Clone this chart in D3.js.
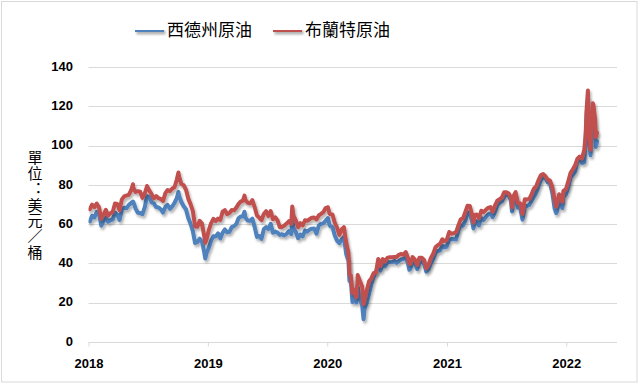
<!DOCTYPE html>
<html><head><meta charset="utf-8">
<script src="https://cdn.jsdelivr.net/npm/d3@7"></script>
<style>
html,body{margin:0;padding:0;background:#fff;}
svg{display:block;}
.ylab{writing-mode:vertical-rl;text-orientation:upright;font-feature-settings:"vert" 0,"vrt2" 0;}
</style>
</head><body>
<svg id="chart" width="640" height="386"></svg>
<script>
// ---------------- DATA ----------------
const seriesNames = ["西德州原油", "布蘭特原油"];
const seriesColors = ["#4F81BD", "#C0504D"];
const yTicks = [0, 20, 40, 60, 80, 100, 120, 140];
const xTickYears = ["2018", "2019", "2020", "2021", "2022"];
const yLabel = "單位：美元／桶";

const dates2018 = ["2018-01-05","2018-01-12","2018-01-19","2018-01-26","2018-02-02","2018-02-09","2018-02-16","2018-02-23","2018-03-02","2018-03-09","2018-03-16","2018-03-23","2018-03-30","2018-04-06","2018-04-13","2018-04-20","2018-04-27","2018-05-04","2018-05-11","2018-05-17","2018-05-18","2018-05-25","2018-06-01","2018-06-08","2018-06-15","2018-06-22","2018-06-29","2018-07-06","2018-07-13","2018-07-20","2018-07-27","2018-08-03","2018-08-10","2018-08-17","2018-08-24","2018-08-31","2018-09-07","2018-09-14","2018-09-21","2018-09-28","2018-10-03","2018-10-05","2018-10-12","2018-10-19","2018-10-26","2018-11-02","2018-11-09","2018-11-16","2018-11-23","2018-11-30","2018-12-07","2018-12-14","2018-12-21","2018-12-24","2018-12-28"];
const wti2018 = [61.4,64.3,63.4,66.1, 65.5,59.2,61.7,63.5, 61.2,62.0,62.3,65.9,64.9, 62.1,67.4,68.4,68.1, 69.7,70.7,71.5,71.3,67.9, 65.8,65.7,65.1,68.6,74.2, 73.8,71.0,70.5,68.7, 68.5,67.6,65.9,68.7,69.8, 67.8,69.0,70.8,73.3, 76.4,74.3,71.3,69.1,67.6, 63.1,60.2,56.5,50.4,50.9, 52.6,51.2,45.6,42.5,45.3];
const brent2018 = [67.6,69.9,68.6,70.5, 68.6,62.8,64.8,67.3, 64.4,65.5,66.2,70.5,70.3, 67.1,72.6,74.1,74.6, 74.9,77.1,80.3,78.5,76.4, 76.8,76.5,73.4,75.6,79.4, 77.1,75.3,73.1,74.3, 73.2,72.8,71.8,75.8,77.4, 76.8,78.1,78.8,82.7, 86.3,84.2,80.4,79.8,77.6, 73.0,70.2,66.8,58.8,58.7, 61.7,60.3,53.8,50.5,52.2];

const dates2019 = ["2019-01-04","2019-01-11","2019-01-18","2019-01-25","2019-02-01","2019-02-08","2019-02-15","2019-02-22","2019-03-01","2019-03-08","2019-03-15","2019-03-22","2019-03-29","2019-04-05","2019-04-12","2019-04-18","2019-04-23","2019-04-26","2019-05-03","2019-05-10","2019-05-17","2019-05-24","2019-05-31","2019-06-07","2019-06-14","2019-06-21","2019-06-28","2019-07-05","2019-07-12","2019-07-19","2019-07-26","2019-08-02","2019-08-09","2019-08-16","2019-08-23","2019-08-30","2019-09-06","2019-09-13","2019-09-16","2019-09-20","2019-09-27","2019-10-04","2019-10-11","2019-10-18","2019-10-25","2019-11-01","2019-11-08","2019-11-15","2019-11-22","2019-11-29","2019-12-06","2019-12-13","2019-12-20","2019-12-27"];
const wti2019 = [47.96,51.6,53.8,53.7, 55.3,52.7,55.6,57.3, 55.8,56.1,58.5,59.0,60.1, 63.1,63.9,64.0,66.3,63.3, 61.9,61.7,62.8,58.6,53.5, 54.0,52.5,57.4,58.5, 57.5,60.2,55.6,56.2, 55.7,54.5,54.9,54.2,55.1, 56.5,54.9,62.9,58.1,55.9, 52.8,54.7,53.8,56.7, 56.2,57.2,57.7,57.8,55.2, 59.2,60.1,60.4,61.7];
const brent2019 = [57.1,60.5,62.7,61.6, 62.8,62.1,66.3,67.1, 65.1,65.7,67.2,67.0,68.4, 70.3,71.6,71.9,74.5,72.2, 70.9,70.6,72.2,68.7,64.5, 63.3,62.0,65.2,66.6, 64.2,66.7,62.5,63.5, 61.9,58.5,58.6,59.3,60.4, 61.5,60.2,69.0,64.3,61.9, 58.4,60.5,59.4,62.0, 61.7,62.5,63.3,63.4,62.4, 64.4,65.2,66.1,68.2];

const dates2020 = ["2020-01-03","2020-01-08","2020-01-10","2020-01-17","2020-01-24","2020-01-31","2020-02-07","2020-02-14","2020-02-21","2020-02-28","2020-03-06","2020-03-09","2020-03-13","2020-03-18","2020-03-20","2020-03-27","2020-03-30","2020-04-02","2020-04-03","2020-04-09","2020-04-17","2020-04-21","2020-04-24","2020-05-01","2020-05-08","2020-05-15","2020-05-22","2020-05-29","2020-06-05","2020-06-12","2020-06-19","2020-06-26","2020-07-03","2020-07-10","2020-07-17","2020-07-24","2020-07-31","2020-08-07","2020-08-14","2020-08-21","2020-08-28","2020-09-04","2020-09-08","2020-09-11","2020-09-18","2020-09-25","2020-10-02","2020-10-09","2020-10-16","2020-10-23","2020-10-30","2020-11-06","2020-11-13","2020-11-20","2020-11-27","2020-12-04","2020-12-11","2020-12-18","2020-12-24","2020-12-31"];
const wti2020 = [63.1,59.6,59.0,58.5,54.2,51.6, 50.3,52.1,53.4,44.8, 41.3,31.1,31.7,20.4,22.4,21.5,20.1, 25.3,28.3,22.8,18.3,11.6,16.9, 19.8,24.7,29.4,33.3,35.5, 39.6,36.3,39.8,38.5, 40.7,40.6,40.6,41.3,40.3, 41.2,42.0,42.3,43.0, 39.8,36.8,37.3,41.1,40.3, 37.1,40.6,40.9,39.9,35.8, 37.1,40.1,42.2,45.5, 46.3,46.6,49.1,48.2,48.5];
const brent2020 = [68.6,65.4,65.0,64.9,60.7,58.2, 54.5,57.3,58.5,50.5, 45.3,34.4,33.9,24.9,27.0,24.9,22.8, 29.9,34.1,31.5,28.1,19.3,21.4, 26.4,31.0,32.5,35.1,35.3, 42.3,38.7,42.2,41.0, 42.8,43.2,43.1,43.3,43.3, 44.4,44.8,44.4,45.8, 42.7,39.8,39.8,43.2,41.9, 39.3,42.9,42.9,41.8,37.5, 39.5,42.8,45.0,48.2, 49.3,50.0,52.3,51.3,51.8];

const dates2021 = ["2021-01-08","2021-01-15","2021-01-22","2021-01-29","2021-02-05","2021-02-12","2021-02-19","2021-02-26","2021-03-05","2021-03-12","2021-03-19","2021-03-23","2021-03-26","2021-04-02","2021-04-09","2021-04-16","2021-04-23","2021-04-30","2021-05-07","2021-05-14","2021-05-21","2021-05-28","2021-06-04","2021-06-11","2021-06-18","2021-06-25","2021-07-02","2021-07-09","2021-07-16","2021-07-19","2021-07-23","2021-07-30","2021-08-06","2021-08-13","2021-08-20","2021-08-27","2021-09-03","2021-09-10","2021-09-17","2021-09-24","2021-10-01","2021-10-08","2021-10-15","2021-10-22","2021-10-29","2021-11-05","2021-11-12","2021-11-19","2021-11-26","2021-12-01","2021-12-03","2021-12-10","2021-12-17","2021-12-20","2021-12-23","2021-12-31"];
const wti2021 = [52.2,52.4,52.3,52.2, 56.9,59.5,59.2,61.5, 66.1,65.6,61.4,57.8,61.0, 61.5,59.3,63.1,62.1,63.6, 64.9,65.4,63.6,66.3, 69.6,70.9,71.6,74.1, 75.2,74.6,71.8,66.4,72.1,74.0, 68.3,68.4,62.3,68.7, 69.3,69.7,72.0,74.0, 75.9,79.4,82.3,83.8,83.6, 81.3,80.8,76.1,68.2, 65.6,66.3,71.7,70.9,68.2,73.8,75.2];
const brent2021 = [56.0,55.1,55.4,55.9, 59.3,62.4,62.9,66.1, 69.4,69.2,64.5,60.8,64.6, 64.9,63.0,66.8,66.1,67.3, 68.3,68.7,66.4,69.6, 71.9,72.7,73.5,76.2, 76.2,75.6,73.6,68.6,74.1,76.3, 70.7,70.6,65.2,72.7, 72.6,72.9,75.3,78.1, 79.3,82.4,84.9,85.5,84.4, 82.7,82.2,78.9,72.7, 68.9,69.9,75.2,73.5,71.5,76.9,77.8];

const dates2022 = ["2022-01-07","2022-01-14","2022-01-21","2022-01-28","2022-02-04","2022-02-11","2022-02-18","2022-02-25","2022-03-01","2022-03-04","2022-03-08","2022-03-10","2022-03-16","2022-03-18","2022-03-23","2022-03-25","2022-03-30","2022-04-01","2022-04-05"];
const wti2022 = [78.9,83.8,85.1,86.8, 92.3,93.1,91.1,91.6, 103.4,115.7,123.7,106.0,95.0,104.7,114.9,113.9,107.8, 99.3,102.0];
const brent2022 = [81.8,86.1,87.9,90.0, 93.3,94.4,93.5,97.9, 105.0,118.1,128.0,109.3,98.0,107.9,121.6,120.7,113.5, 104.4,106.6];

// ---------------- BUILD ----------------
const parse = d3.timeParse("%Y-%m-%d");
const dates = [].concat(dates2018, dates2019, dates2020, dates2021, dates2022).map(parse);
const wti = [].concat(wti2018, wti2019, wti2020, wti2021, wti2022);
const brent = [].concat(brent2018, brent2019, brent2020, brent2021, brent2022);
const series = [wti, brent].map((vals, i) => ({
  name: seriesNames[i], color: seriesColors[i],
  points: dates.map((d, j) => ({date: d, value: vals[j]}))
}));

const svg = d3.select("#chart");
const W = 640, H = 386;
const plot = {left: 88.5, right: 617, top: 67, bottom: 342};

svg.append("rect").attr("x", 0).attr("y", 0).attr("width", W).attr("height", H).attr("fill", "#fff");
svg.append("rect").attr("x", 1.5).attr("y", 1.5).attr("width", 635.5).attr("height", 380.5)
  .attr("fill", "none").attr("stroke", "#d9d9d9").attr("stroke-width", 1);

const x = d3.scaleTime()
  .domain([new Date(2018, 0, 1), new Date(2022, 5, 5)])
  .range([plot.left, plot.right]);
const y = d3.scaleLinear().domain([0, 140]).range([plot.bottom, plot.top]);

// gridlines
svg.append("g").selectAll("line").data(yTicks.filter(v => v > 0)).join("line")
  .attr("x1", plot.left).attr("x2", plot.right)
  .attr("y1", d => Math.round(y(d)) + 0.5).attr("y2", d => Math.round(y(d)) + 0.5)
  .attr("stroke", "#d9d9d9").attr("stroke-width", 1);

// y axis labels
const yAxis = d3.axisLeft(y).tickValues(yTicks).tickSize(0).tickPadding(0).tickFormat(d3.format("d"));
const gy = svg.append("g").attr("transform", `translate(73,-1)`).call(yAxis);
gy.select(".domain").remove();
gy.selectAll("text").attr("font-family", "'Liberation Sans', Arial, sans-serif")
  .attr("font-size", 13).attr("font-weight", "bold").attr("fill", "#000");

// x axis
const xTickDates = xTickYears.map(s => new Date(+s, 0, 1));
const xAxis = d3.axisBottom(x).tickValues(xTickDates).tickSize(4).tickPadding(12)
  .tickFormat(d3.timeFormat("%Y"));
const gx = svg.append("g").attr("transform", `translate(0,${plot.bottom + 0.5})`).call(xAxis);
gx.select(".domain").attr("stroke", "#d9d9d9").attr("d", `M${plot.left},0H${plot.right}`);
gx.selectAll(".tick line").attr("stroke", "#d9d9d9");
gx.selectAll("text").attr("font-family", "'Liberation Sans', Arial, sans-serif")
  .attr("font-size", 13).attr("font-weight", "bold").attr("fill", "#000");

// shadow filter (user space so zero-height lines still render)
const defs = svg.append("defs");
const f = defs.append("filter").attr("id", "shadow").attr("filterUnits", "userSpaceOnUse")
  .attr("x", 0).attr("y", 0).attr("width", W).attr("height", H);
f.append("feDropShadow").attr("dx", 1.5).attr("dy", 2.5).attr("stdDeviation", 1.3)
  .attr("flood-color", "#000").attr("flood-opacity", 0.3);
defs.append("clipPath").attr("id", "clip").append("rect")
  .attr("x", plot.left).attr("y", plot.top - 10).attr("width", plot.right - plot.left).attr("height", plot.bottom - plot.top + 10);

const line = d3.line().x(d => x(d.date)).y(d => y(d.value)).curve(d3.curveLinear);
svg.append("g").attr("clip-path", "url(#clip)").selectAll("path").data(series).join("path")
  .attr("d", d => line(d.points))
  .attr("fill", "none").attr("stroke", d => d.color).attr("stroke-width", 4)
  .attr("stroke-linejoin", "round").attr("stroke-linecap", "round")
  .attr("filter", "url(#shadow)");

// y label (vertical, upright characters)
svg.append("text").attr("class", "ylab").text(yLabel)
  .attr("x", 35).attr("y", 150)
  .attr("font-family", "'Noto Sans CJK TC', 'Noto Sans CJK SC', sans-serif")
  .attr("font-size", 15).attr("letter-spacing", 0.8).attr("fill", "#000");

// legend
const legendX = [135, 273];
const lg = svg.append("g").selectAll("g").data(series).join("g")
  .attr("transform", (d, i) => `translate(${legendX[i]},30)`);
lg.append("line").attr("x1", 0).attr("x2", 29).attr("y1", 0).attr("y2", 0)
  .attr("stroke", d => d.color).attr("stroke-width", 4).attr("filter", "url(#shadow)");
lg.append("text").text(d => d.name).attr("x", 32).attr("y", 0).attr("dy", "0.36em")
  .attr("font-family", "'Noto Sans CJK TC', 'Noto Sans CJK SC', sans-serif")
  .attr("font-size", 17).attr("fill", "#000");
</script>
</body></html>
